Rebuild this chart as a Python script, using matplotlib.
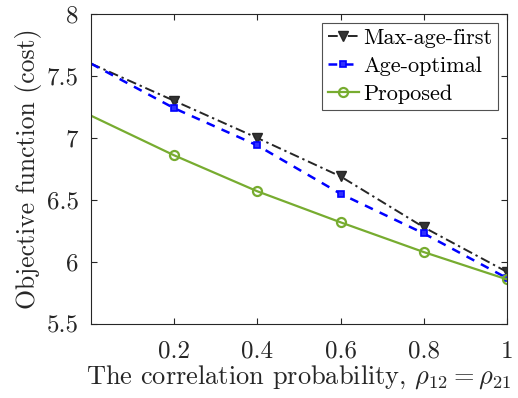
import matplotlib
matplotlib.use("Agg")
import matplotlib.pyplot as plt

x = [0.0, 0.2, 0.4, 0.6, 0.8, 1.0]
max_age_first = [7.60, 7.30, 7.00, 6.69, 6.28, 5.92]
age_optimal = [7.60, 7.24, 6.94, 6.55, 6.23, 5.87]
proposed = [7.18, 6.86, 6.57, 6.32, 6.08, 5.86]
xticks = [0.2, 0.4, 0.6, 0.8, 1.0]
xticklabels = ["0.2", "0.4", "0.6", "0.8", "1"]
yticks = [5.5, 6, 6.5, 7, 7.5, 8]
yticklabels = ["5.5", "6", "6.5", "7", "7.5", "8"]

plt.rcParams['font.family'] = ['cmr10', 'DejaVu Serif']
plt.rcParams['mathtext.fontset'] = 'cm'
plt.rcParams['axes.unicode_minus'] = False

fig = plt.figure(figsize=(5.18, 3.98), dpi=100)
ax = fig.add_axes([91/518, (398-324)/398, (507-91)/518, (324-14)/398])

mk = list(range(1, len(x)))
ax.plot(x, max_age_first, color='#262626', linestyle='-.', linewidth=1.4,
        dashes=(5, 2, 1.2, 2),
        marker='v', markersize=7.5, mfc='#333333', mec='#262626', markevery=mk,
        label='Max-age-first')
ax.plot(x, age_optimal, color='#0000FF', linestyle='--', linewidth=1.8,
        marker='s', markersize=5, mfc='#3030FF', mec='#0000FF', mew=1.2, markevery=mk,
        dashes=(3.5, 3), label='Age-optimal')
ax.plot(x, proposed, color='#77AC30', linestyle='-', linewidth=1.6,
        marker='o', markersize=6.5, mfc='none', mec='#77AC30', mew=1.6, markevery=mk,
        label='Proposed')

ax.set_xlim(0, 1)
ax.set_ylim(5.5, 8)
ax.set_xticks(xticks)
ax.set_xticklabels(xticklabels)
ax.set_yticks(yticks)
ax.set_yticklabels(yticklabels)
ax.tick_params(direction='in', length=4, labelsize=18, top=True, right=True,
               colors='#262626', width=0.8)
ax.tick_params(axis='x', pad=12)
ax.tick_params(axis='y', pad=9)
for s in ax.spines.values():
    s.set_color('#262626')
    s.set_linewidth(0.8)

ax.set_xlabel(r'The correlation probability, $\rho_{12}=\rho_{21}$', fontsize=19,
              color='#262626', labelpad=0)
ax.set_ylabel('Objective function (cost)', fontsize=18.5, color='#262626', labelpad=3)

leg = ax.legend(loc='upper right', fontsize=16, frameon=True, fancybox=False,
                edgecolor='#262626', handlelength=1.4, handletextpad=0.2,
                borderpad=0.25, labelspacing=0.38, borderaxespad=0.4)
leg.get_frame().set_linewidth(0.8)

fig.savefig('out.png', dpi=100)
